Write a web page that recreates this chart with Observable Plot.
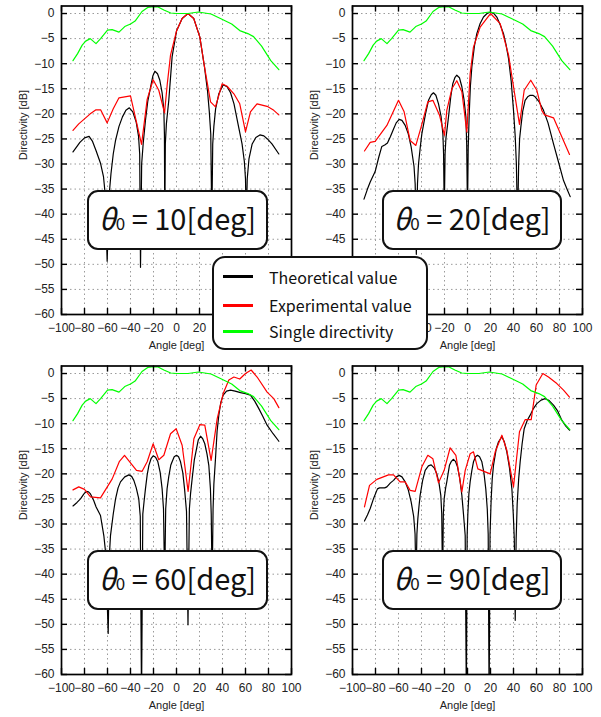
<!DOCTYPE html>
<html><head><meta charset="utf-8">
<script src="https://cdn.jsdelivr.net/npm/d3@7"></script>
<script src="https://cdn.jsdelivr.net/npm/@observablehq/plot@0.6"></script>
<style>
body{margin:0;background:#fff;}
#wrap{position:relative;width:601px;height:717px;overflow:hidden;background:#fff;}
.panel{position:absolute;}
.note{position:absolute;box-sizing:border-box;border:2px solid #111;border-radius:11px;background:#fff;
  font-family:"Noto Sans CJK JP","Noto Sans",sans-serif;font-size:29px;color:#111;
  display:flex;align-items:center;justify-content:center;white-space:pre;}
.note .in{display:block;line-height:34px;}
.note .th{font-style:italic;}
.note .sub{font-size:17px;}
#legend{position:absolute;left:212px;top:256px;width:216px;height:94px;box-sizing:border-box;
  border:2px solid #111;border-radius:13px;background:#fff;
  font-family:"Noto Sans CJK JP","Noto Sans",sans-serif;font-size:16px;color:#111;}
#legend .sw{position:absolute;left:9px;width:30px;height:3px;}
#legend .lb{position:absolute;left:55px;line-height:20px;white-space:nowrap;}
</style>
</head><body><div id="wrap"></div>
<script>
// ---- tick values ----
const xTicks = [-100,-80,-60,-40,-20,0,20,40,60,80,100];
const yTicks = [-60,-55,-50,-45,-40,-35,-30,-25,-20,-15,-10,-5,0];
const xGrid = [-80,-60,-40,-20,0,20,40,60,80];
const yGrid = [-55,-50,-45,-40,-35,-30,-25,-20,-15,-10,-5,0];
const seriesNames = ["Theoretical value","Experimental value","Single directivity"];
const thetas = [10,20,60,90];

// ---- single element directivity (same in all panels) ----
const single = [[-90,-9.4],[-86,-8],[-82,-6.3],[-79,-5.5],[-75,-5.0],[-70,-6.0],[-66,-5.0],[-60,-3.3],[-56,-3.2],[-50,-3.7],[-45,-2.6],[-40,-2.1],[-36,-1.5],[-30,0.4],[-25,1.2],[-20,1.35],[-16,1.3],[-11,0.7],[-5,0.1],[0,0],[10,0],[19,0.3],[30,-0.1],[40,-1.2],[48,-2.1],[55,-3.4],[62,-4.0],[67,-4.6],[74,-6.5],[82,-9.4],[89,-11.2]];

// ---- theta0 = 10 ----
const theo10 = [[-90,-27.6],[-84,-25.7],[-80,-24.8],[-76,-24.5],[-73,-25.5],[-70,-27.3],[-66,-29.9],[-63.5,-32.5],[-62,-36],[-60.3,-49.4],[-58.5,-36],[-57,-32],[-55,-28],[-53,-25.3],[-50,-22.5],[-47,-20.6],[-44,-19.3],[-41,-18.8],[-38,-19.6],[-35,-21.7],[-33,-24.5],[-32,-28],[-31.3,-50.6],[-30.3,-30],[-29,-26],[-27,-21.3],[-25,-17.5],[-22.5,-14.6],[-20.5,-12.4],[-18.8,-11.5],[-16.5,-12],[-14.5,-13.3],[-12.5,-15.8],[-11,-19.3],[-10.5,-24],[-10.2,-42],[-9.7,-26],[-8.8,-22],[-6.7,-17.3],[-3.8,-8.6],[0,-3.5],[4.9,-1],[10,0],[15,-1],[20.3,-4.7],[24.3,-10.6],[27,-15.5],[28.5,-19.5],[29.8,-24],[30.7,-42],[31.5,-26],[32.5,-22.5],[34,-19],[36.8,-16],[40.6,-14.2],[44,-14.6],[47,-15.8],[50,-18],[54,-22.6],[57,-26],[59,-29.5],[60,-33],[60.6,-42],[61.5,-33],[63,-29],[65.8,-26],[69,-24.7],[72.5,-24.2],[76,-24.4],[79,-25],[83,-26],[89,-28]];
const exp10 = [[-90,-23.3],[-85,-22],[-80,-21],[-75,-20],[-70,-19.2],[-66,-19.2],[-60.3,-21.8],[-55,-19],[-50,-16.8],[-40,-16.4],[-30.4,-26.1],[-25.5,-17.1],[-20.3,-13.2],[-15.4,-15.3],[-10.4,-19.8],[-8,-14],[-5.2,-8.3],[0,-3.5],[4.9,-1],[10,0],[15,-1],[20.3,-4.7],[24.3,-10.6],[29.6,-17.6],[33.9,-18.6],[39.7,-14],[44,-14.5],[49.9,-16],[55,-18],[60,-23.6],[64.3,-19.6],[70,-18],[78.8,-18.5],[84.6,-19.3],[89,-20.2]];

// ---- theta0 = 20 ----
const theo20 = [[-90,-37],[-87,-35],[-84.6,-33.6],[-80.3,-31.5],[-77,-28.5],[-74.5,-26.5],[-72,-26.2],[-69.6,-25.8],[-67,-24.5],[-64.3,-23],[-62,-21.8],[-59.4,-21.1],[-57,-21.3],[-54.2,-22.3],[-51.5,-24],[-49,-26.6],[-46.5,-30.5],[-45.5,-34],[-44.5,-48],[-43.5,-34],[-42.6,-30],[-41,-26.5],[-39.7,-24],[-36.5,-20],[-33.9,-17.3],[-31.5,-16.2],[-29.6,-15.8],[-27.5,-16.3],[-25.2,-18],[-23,-20.5],[-21.4,-24],[-20.8,-28],[-20.2,-40],[-19.5,-28],[-18.8,-25],[-16.5,-20.6],[-14.5,-16.5],[-12.8,-14],[-11,-12.8],[-9.3,-12.3],[-7,-12.8],[-4.9,-14.6],[-3,-17.2],[-1.4,-20.6],[-0.7,-26],[0,-40],[0.6,-27],[1.5,-20],[2.5,-14.5],[3.8,-10.6],[6,-6.5],[8.1,-4],[11,-2],[13.9,-0.7],[17,0],[20,0.3],[23,0],[25.5,-0.7],[28.5,-2.3],[31.3,-4],[33.5,-6.2],[35.7,-9],[38,-13.5],[40,-19.3],[41.5,-24.5],[42.5,-30],[43.5,-42],[44.5,-30],[45.3,-25],[46.4,-22.6],[48,-19.5],[50.1,-17.3],[52.3,-16.6],[54.5,-16.3],[56.8,-16.3],[58.8,-16.6],[62,-17.5],[66.1,-19.3],[70,-21.8],[74.8,-26],[79,-29.5],[83.5,-33.3],[86.5,-35],[89.3,-36.5]];
const exp20 = [[-89.6,-27.4],[-84.6,-25.7],[-80.3,-25.5],[-70.1,-22.3],[-60,-17.3],[-55.1,-19.6],[-49.9,-25.3],[-44.9,-26.3],[-40.3,-22.6],[-34.5,-17.6],[-30.1,-17.3],[-24.3,-20.3],[-20,-24.3],[-18,-19.3],[-13.6,-15],[-9.3,-13.4],[-4.9,-15.6],[-0.6,-23.6],[2.3,-12],[5.2,-6.7],[11,-2.7],[20,0],[28.4,-2],[35.7,-8.3],[41.4,-16.6],[45.2,-22.1],[49.3,-15.3],[55,-13.3],[60.3,-15.3],[64.6,-19.3],[67,-20.2],[74.8,-20.8],[88.7,-28.1]];

// ---- theta0 = 60 ----
const theo60 = [[-90,-26.4],[-86.5,-25.7],[-83.5,-25],[-80.5,-24],[-78.3,-23.5],[-76.5,-23.6],[-74.8,-24],[-72,-25.3],[-69.9,-26.6],[-66.1,-28.3],[-63.2,-32.3],[-61.5,-36],[-59.4,-51.8],[-58.3,-36],[-57.4,-32.3],[-55,-28],[-53,-25],[-50.8,-22.8],[-48.7,-21.6],[-45,-20.6],[-41.4,-20.2],[-39,-20.5],[-37.1,-21.3],[-35,-22.8],[-32.8,-25],[-31.5,-28.5],[-30.4,-65],[-29.3,-28],[-28.2,-25.5],[-27,-23],[-25.5,-20.2],[-24,-18.3],[-22,-16.9],[-20.3,-16.4],[-18.2,-16.7],[-16.2,-17.6],[-14.2,-19.7],[-12.5,-23],[-11.3,-27],[-10.3,-42],[-9.4,-27],[-8.2,-23],[-6.7,-20.5],[-5,-18.3],[-3.8,-17.6],[-2,-16.6],[0,-16.3],[1.8,-16.6],[3.5,-17.6],[5.5,-19.8],[7,-23],[8.7,-27.5],[10,-50.1],[11.2,-27],[12.2,-24],[13.6,-21],[15.5,-17.2],[17.4,-15],[19,-13.2],[20.9,-12.5],[22.8,-13],[24.6,-14],[26.5,-16],[28.1,-18.3],[29.5,-23],[30.2,-28],[31,-42],[31.8,-27],[32.5,-22],[33.9,-17],[35.3,-11.5],[36.8,-8.3],[38.5,-5.8],[40.6,-4.3],[43.5,-3.5],[47,-3.3],[51,-3.5],[55.7,-3.8],[60,-4],[64.3,-4.3],[68,-5.5],[71.6,-7],[75,-8.5],[78.8,-10.3],[84,-12],[89,-13.5]];
const exp60 = [[-90,-23.2],[-85,-22.6],[-80,-23.1],[-74.8,-24.6],[-66.1,-24.8],[-55.9,-21],[-49.6,-17.5],[-45.2,-16.3],[-34.8,-19.3],[-29.9,-19.5],[-25.5,-17.6],[-20.3,-14],[-15.4,-17.2],[-11,-16.3],[-5.2,-12],[-0.3,-11],[4.9,-14.3],[10.1,-23.5],[15.1,-13],[20.3,-10.2],[24.6,-10.3],[30.1,-17.3],[35.4,-9],[40.6,-4],[45.5,-1.3],[49.9,-0.7],[55,-1.1],[60,0],[64.9,0.7],[70.1,-0.7],[78.8,-3.7],[84.6,-5],[89,-6.8]];

// ---- theta0 = 90 ----
const theo90 = [[-89.6,-29.4],[-87,-28.2],[-84.6,-26.9],[-81.5,-24.8],[-78.3,-23],[-76.5,-22.8],[-74.5,-22.8],[-72,-22.8],[-70.1,-22.6],[-67,-21.8],[-64.3,-21.3],[-61.8,-20.6],[-59.4,-20.3],[-57,-20.6],[-54.2,-21.6],[-51.5,-23.2],[-49,-25.6],[-46.8,-28.5],[-45.6,-32],[-44.8,-42],[-44,-32],[-43.2,-29],[-42.2,-26.5],[-41.2,-24.3],[-39,-21.3],[-36.8,-19.3],[-34,-18.4],[-31.6,-18.2],[-29,-18.8],[-26.7,-20],[-24.8,-21.8],[-23.2,-24.3],[-22.4,-28],[-21.7,-42],[-21,-28],[-20.3,-25],[-19,-22.8],[-18,-21.6],[-15.7,-18.3],[-14,-17.5],[-12.2,-17.1],[-10.5,-17.5],[-8.7,-18.6],[-6.8,-20.8],[-4.9,-24.3],[-3.5,-28],[-2,-32.3],[-1,-65],[-0.3,-32.3],[0.3,-28],[1.2,-24],[2.3,-21.6],[3.8,-19.3],[5.2,-17.6],[7,-16.6],[8.7,-16.3],[10.5,-16.6],[12.5,-17.6],[14.3,-19.8],[15.9,-23],[17.2,-27],[18,-32],[18.8,-65],[19.6,-32],[20.6,-25],[21.5,-21],[22.6,-18.3],[25,-15],[27,-13.6],[29.9,-12.6],[32,-13.6],[34.2,-15.6],[36.5,-18.8],[38.6,-23],[39.8,-28],[40.7,-33],[41.5,-49.2],[42.3,-33],[43.2,-26],[44.5,-21],[45.8,-17.6],[47.5,-14],[49.3,-11],[52,-9.3],[54.5,-8.3],[57,-7.1],[60.3,-6],[64,-5.3],[67.5,-5],[71,-5.4],[74.8,-6.3],[78.5,-7.5],[82,-9.3],[85.5,-10.5],[88.7,-11.3]];
const exp90 = [[-89.6,-26.6],[-85.2,-22.3],[-78.8,-21.1],[-68.7,-20.2],[-64.3,-20.2],[-58.6,-21.6],[-54.2,-21.6],[-49.9,-23.3],[-45.5,-23.5],[-39.7,-18.6],[-34.5,-16.3],[-30.1,-17],[-25.2,-21.8],[-20.3,-19.3],[-15.1,-14.8],[-10.1,-16.3],[-4.9,-23.6],[-2,-19.3],[2.3,-16],[5.2,-15.6],[9,-19],[19.7,-20],[24.1,-15.6],[29.9,-12.3],[34.2,-15.3],[40,-22.6],[45.2,-11.6],[50.1,-9.2],[55.4,-9.2],[59.7,-2.3],[65.5,0],[70.4,-0.7],[77.7,-2],[83.5,-3.3],[88.7,-4.7]];

const colors = {theo: "#000000", exp: "#ff0000", single: "#00ff00"};
const FONT = "Liberation Sans, Arial, sans-serif";

const W = 300, H = 355, ML = 61, MR = 9, MT = 5.5, MB = 41;
const frameW = W - ML - MR, frameH = H - MT - MB;

function panel(theo, exp) {
  const line = (data, color) => Plot.line(data, {x: d => d[0], y: d => d[1], stroke: color, strokeWidth: 1.2, clip: true});
  return Plot.plot({
    width: W, height: H,
    marginLeft: ML, marginRight: MR, marginTop: MT, marginBottom: MB,
    x: {domain: [-100, 100]},
    y: {domain: [-60, 1.5]},
    style: {fontFamily: FONT, fontSize: "12px", color: "#222", background: "transparent", overflow: "visible"},
    marks: [
      Plot.gridX(xGrid, {stroke: "#9a9a9a", strokeOpacity: 1, strokeDasharray: "1.5,3", strokeWidth: 1}),
      Plot.gridY(yGrid, {stroke: "#9a9a9a", strokeOpacity: 1, strokeDasharray: "1.5,3", strokeWidth: 1}),
      line(theo, colors.theo),
      line(exp, colors.exp),
      line(single, colors.single),
      Plot.tickX(xTicks, {x: d => d, insetTop: frameH - 6, stroke: "#000", strokeWidth: 1.4}),
      Plot.tickX(xTicks, {x: d => d, insetBottom: frameH - 6, stroke: "#000", strokeWidth: 1.4}),
      Plot.tickY(yTicks, {y: d => d, insetRight: frameW - 6, stroke: "#000", strokeWidth: 1.4}),
      Plot.tickY(yTicks, {y: d => d, insetLeft: frameW - 6, stroke: "#000", strokeWidth: 1.4}),
      Plot.frame({stroke: "#000", strokeWidth: 1.7}),
      Plot.axisX({ticks: xTicks, tickSize: 0, tickPadding: 9, label: null, fill: "#222", fontSize: 12, fontFamily: FONT}),
      Plot.axisY({ticks: yTicks, tickSize: 0, tickPadding: 7, label: null, fill: "#222", fontSize: 12, fontFamily: FONT}),
      Plot.text(["Angle [deg]"], {frameAnchor: "bottom", dy: 34, fontSize: 11, fontFamily: FONT, fill: "#222"}),
      Plot.text(["Directivity [dB]"], {frameAnchor: "left", rotate: -90, dx: -38.5, fontSize: 11, fontFamily: FONT, fill: "#222"})
    ]
  });
}

const wrap = document.getElementById("wrap");
const layout = [
  {theo: theo10, exp: exp10, left: 0, top: 0, box: [87, 190, 181, 60]},
  {theo: theo20, exp: exp20, left: 291.3, top: 0, box: [381.7, 190, 180.6, 60]},
  {theo: theo60, exp: exp60, left: 0, top: 360, box: [87, 550, 181, 60]},
  {theo: theo90, exp: exp90, left: 291.3, top: 360, box: [381.7, 550, 180.6, 60]}
];
layout.forEach((p, i) => {
  const svg = panel(p.theo, p.exp);
  svg.classList.add("panel");
  svg.style.left = p.left + "px";
  svg.style.top = p.top + "px";
  svg.style.position = "absolute";
  wrap.appendChild(svg);
});
layout.forEach((p, i) => {
  const d = document.createElement("div");
  d.className = "note";
  d.style.left = p.box[0] + "px"; d.style.top = p.box[1] + "px";
  d.style.width = p.box[2] + "px"; d.style.height = p.box[3] + "px";
  d.innerHTML = `<span class="in"><span class="th">θ</span><span class="sub">0</span> = ${thetas[i]}[deg]</span>`;
  wrap.appendChild(d);
});
// legend
const lg = document.createElement("div");
lg.id = "legend";
const rows = [18.5, 47, 73];
const cols = [colors.theo, colors.exp, colors.single];
seriesNames.forEach((n, i) => {
  const s = document.createElement("div");
  s.className = "sw"; s.style.top = (rows[i] - 1.5) + "px"; s.style.background = cols[i];
  lg.appendChild(s);
  const t = document.createElement("div");
  t.className = "lb"; t.style.top = (rows[i] - 10) + "px"; t.textContent = n;
  lg.appendChild(t);
});
wrap.appendChild(lg);
</script>
</body></html>
